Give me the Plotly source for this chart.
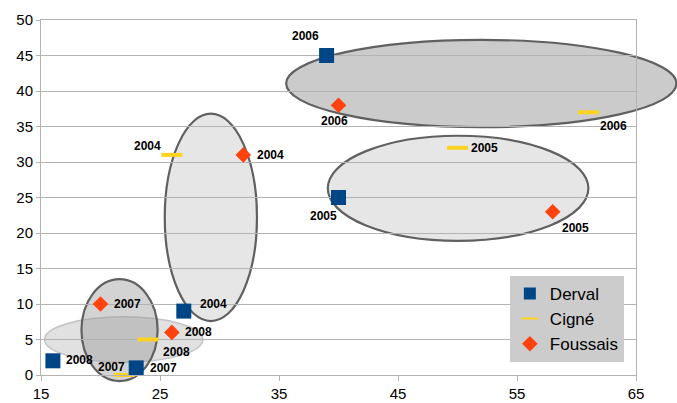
import plotly.graph_objects as go

# Yearly positions of the three communes
years = ["2004", "2005", "2006", "2007", "2008"]

derval_x = [27, 40, 39, 23, 16]
derval_y = [9, 25, 45, 1, 2]

cigne_x = [26, 50, 61, 22, 24]
cigne_y = [31, 32, 37, 0, 5]

foussais_x = [32, 58, 40, 20, 26]
foussais_y = [31, 23, 38, 10, 6]

# Pixel offsets (dx right, dy up) of each year label from its marker
derval_off = [(30, 7), (-15, -18), (-21, 20), (27, 0), (27, 1)]
cigne_off = [(-24, 9), (27, 0), (25, -14), (-13, 8), (28, -12)]
foussais_off = [(27, 0), (23, -16), (-4, -16), (27, 0), (27, 0)]

X_RANGE = [15, 65]
Y_RANGE = [0, 50]

# Year groupings drawn as ellipses: (x0, x1, y0, y1) in data units, fill, outline, width
groups = [
    (35.6, 68.4, 34.9, 47.2, "#cbcbcb", "#606060", 2.2),   # 2006
    (39.1, 61.0, 18.9, 33.7, "#e6e6e6", "#606060", 2.2),   # 2005
    (25.4, 33.15, 7.6, 36.8, "#e6e6e6", "#606060", 2.2),   # 2004
    (15.3, 28.6, 1.8, 8.2, "rgba(215,215,215,0.75)", "#c4c4c4", 1.5),  # 2008
    (18.4, 24.8, -0.85, 13.5, "rgba(150,150,150,0.42)", "#606060", 2.2),  # 2007
]


def px(v):
    return (v - X_RANGE[0]) / (X_RANGE[1] - X_RANGE[0])


def py(v):
    return (v - Y_RANGE[0]) / (Y_RANGE[1] - Y_RANGE[0])


fig = go.Figure()

fig.add_trace(go.Scatter(
    x=cigne_x, y=cigne_y, name="Cigné", legendrank=2,
    mode="markers", cliponaxis=False,
    marker=dict(symbol="line-ew", size=15, color="#ffd320",
                line=dict(color="#ffd320", width=4)),
))
fig.add_trace(go.Scatter(
    x=foussais_x, y=foussais_y, name="Foussais", legendrank=3,
    mode="markers", cliponaxis=False,
    marker=dict(symbol="diamond", size=12, color="#ff420e"),
))
fig.add_trace(go.Scatter(
    x=derval_x, y=derval_y, name="Derval", legendrank=1,
    mode="markers", cliponaxis=False,
    marker=dict(symbol="square", size=15, color="#004586"),
))

# Year labels next to every point
for xs, ys, offs in ((derval_x, derval_y, derval_off),
                     (cigne_x, cigne_y, cigne_off),
                     (foussais_x, foussais_y, foussais_off)):
    for xv, yv, yr, (dx, dy) in zip(xs, ys, years, offs):
        fig.add_annotation(
            x=xv, y=yv, text=yr, showarrow=False,
            xshift=dx, yshift=dy,
            font=dict(family="Liberation Sans, Arial", size=12,
                      color="#000000", weight="bold"),
        )

for x0, x1, y0, y1, fill, edge, w in groups:
    fig.add_shape(
        type="circle", xref="paper", yref="paper", layer="below",
        x0=px(x0), x1=px(x1), y0=py(y0), y1=py(y1),
        fillcolor=fill, line=dict(color=edge, width=w),
    )

fig.update_layout(
    width=677, height=403,
    margin=dict(l=41, r=41, t=20, b=28),
    paper_bgcolor="white", plot_bgcolor="white",
    font=dict(family="Liberation Sans, Arial", color="#000000"),
    showlegend=True,
    legend=dict(
        x=0.788, y=0.279, xanchor="left", yanchor="top",
        bgcolor="#cccccc", borderwidth=0,
        font=dict(size=17), itemsizing="constant",
        itemwidth=30, tracegroupgap=0,
    ),
    xaxis=dict(
        range=X_RANGE, tickvals=[15, 25, 35, 45, 55, 65],
        showgrid=False, zeroline=False, automargin=False,
        showline=True, linecolor="#b3b3b3", linewidth=1, mirror=True,
        ticks="outside", ticklen=5, tickcolor="#b3b3b3",
        tickfont=dict(size=15),
    ),
    yaxis=dict(
        range=Y_RANGE, dtick=5, automargin=False,
        showgrid=True, gridcolor="#b3b3b3", gridwidth=1,
        zeroline=False,
        showline=True, linecolor="#b3b3b3", linewidth=1, mirror=True,
        ticks="outside", ticklen=4, tickcolor="#b3b3b3",
        tickfont=dict(size=15),
    ),
)

fig.write_html("out.html")
